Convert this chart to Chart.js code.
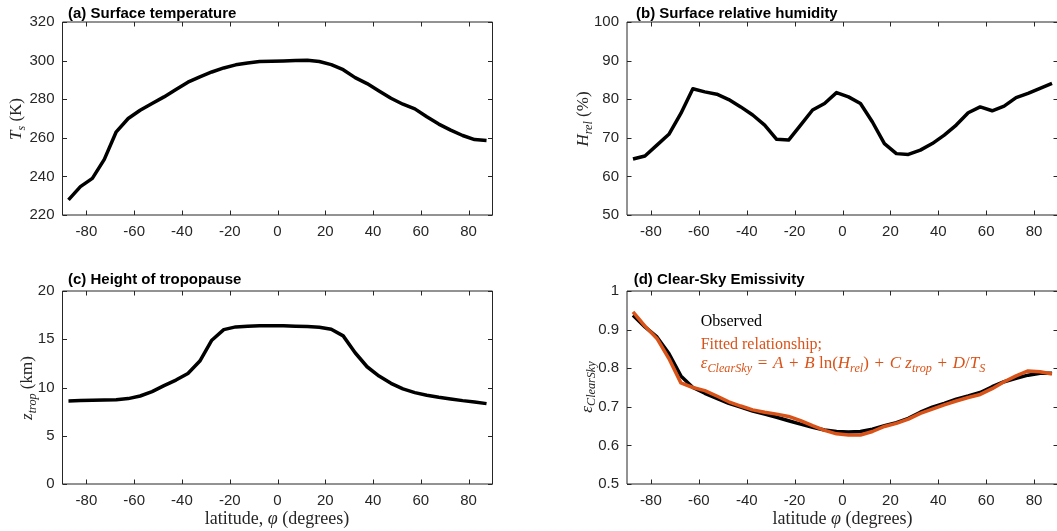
<!DOCTYPE html>
<html>
<head>
<meta charset="utf-8">
<title>Zonal mean surface fields</title>
<script src="https://cdn.jsdelivr.net/npm/chart.js@4"></script>
<style>
  html, body { margin: 0; padding: 0; background: #fff; overflow: hidden; }
  #wrap { position: relative; width: 1057px; height: 531px; overflow: hidden; }
  canvas { position: absolute; }
</style>
</head>
<body>
<div id="wrap">
  <canvas id="tsChart" style="left:0;top:0;width:528px;height:265px" width="528" height="265"></canvas>
  <canvas id="rhChart" style="left:528px;top:0;width:540px;height:265px" width="540" height="265"></canvas>
  <canvas id="ztChart" style="left:0;top:265px;width:528px;height:266px" width="528" height="266"></canvas>
  <canvas id="emChart" style="left:528px;top:265px;width:540px;height:266px" width="540" height="266"></canvas>
</div>
<script>
// latitude band centres (5 degree bands)
const lat = [-87.5, -82.5, -77.5, -72.5, -67.5, -62.5, -57.5, -52.5, -47.5, -42.5, -37.5, -32.5,
  -27.5, -22.5, -17.5, -12.5, -7.5, -2.5, 2.5, 7.5, 12.5, 17.5, 22.5, 27.5,
  32.5, 37.5, 42.5, 47.5, 52.5, 57.5, 62.5, 67.5, 72.5, 77.5, 82.5, 87.5];

// surface temperature (K)
const tsK = [227.8, 234.7, 239.0, 248.8, 263.1, 270.0, 274.3, 277.8, 281.2, 285.0, 288.8, 291.6,
  294.1, 296.2, 297.8, 298.8, 299.5, 299.7, 299.8, 300.0, 300.2, 299.5, 297.9, 295.3,
  291.2, 288.1, 284.3, 280.5, 277.4, 275.0, 270.9, 267.1, 264.0, 261.2, 259.1, 258.6];

// surface relative humidity (%)
const hRel = [64.5, 65.3, 68.1, 70.9, 76.3, 82.7, 81.9, 81.3, 79.9, 78.0, 75.9, 73.3,
  69.6, 69.4, 73.3, 77.2, 78.9, 81.7, 80.6, 78.9, 74.1, 68.5, 65.9, 65.7,
  66.8, 68.5, 70.7, 73.3, 76.5, 78.0, 77.0, 78.2, 80.4, 81.5, 82.8, 84.1];

// tropopause height (km)
const zTrop = [8.61, 8.64, 8.67, 8.71, 8.74, 8.85, 9.12, 9.57, 10.19, 10.77, 11.46, 12.74,
  14.9, 16.0, 16.28, 16.35, 16.39, 16.39, 16.39, 16.35, 16.32, 16.25, 16.04, 15.35,
  13.6, 12.15, 11.19, 10.43, 9.85, 9.47, 9.19, 8.98, 8.81, 8.64, 8.5, 8.33];

// clear-sky emissivity, observed and fitted
const emisObs = [0.937, 0.907, 0.881, 0.838, 0.780, 0.750, 0.735, 0.722, 0.709, 0.699, 0.689, 0.681,
  0.673, 0.664, 0.655, 0.647, 0.640, 0.636, 0.635, 0.636, 0.642, 0.651, 0.659, 0.670,
  0.686, 0.699, 0.709, 0.720, 0.728, 0.737, 0.752, 0.765, 0.774, 0.782, 0.787, 0.787];
const emisFit = [0.946, 0.909, 0.877, 0.825, 0.762, 0.750, 0.742, 0.728, 0.713, 0.702, 0.692, 0.686,
  0.681, 0.675, 0.664, 0.651, 0.639, 0.630, 0.627, 0.627, 0.636, 0.649, 0.657, 0.668,
  0.683, 0.694, 0.705, 0.715, 0.724, 0.732, 0.747, 0.765, 0.780, 0.793, 0.791, 0.785];

// tick values and labels
const latTicks = [-80, -60, -40, -20, 0, 20, 40, 60, 80];
const tsTicks = [220, 240, 260, 280, 300, 320];
const rhTicks = [50, 60, 70, 80, 90, 100];
const ztTicks = [0, 5, 10, 15, 20];
const emTicks = [0.5, 0.6, 0.7, 0.8, 0.9, 1];
const emTickLabels = ["0.5", "0.6", "0.7", "0.8", "0.9", "1"];

const SANS = '"Liberation Sans", Arial, Helvetica, sans-serif';
const SERIF = '"Liberation Serif", "Times New Roman", serif';
const AXIS_GREY = "#262626";
const ORANGE = "#D95319";
const OPSP = "\u2004"; // slightly wider space around math operators

// draw a run of text pieces: r = roman, i = italic, s = italic subscript, b = bold sans
function drawRich(ctx, parts, x, y, size, color, align) {
  const fontFor = (k) => {
    if (k === "b") return `bold ${size}px ${SANS}`;
    if (k === "r") return `${size}px ${SERIF}`;
    if (k === "s") return `italic ${(size * 0.72).toFixed(1)}px ${SERIF}`;
    return `italic ${size}px ${SERIF}`;
  };
  let w = 0;
  parts.forEach(([t, k]) => {
    ctx.font = fontFor(k);
    w += ctx.measureText(t).width;
  });
  let cx = align === "center" ? x - w / 2 : x;
  ctx.fillStyle = color;
  ctx.textAlign = "left";
  ctx.textBaseline = "alphabetic";
  parts.forEach(([t, k]) => {
    ctx.font = fontFor(k);
    ctx.fillText(t, cx, k === "s" ? y + size * 0.22 : y);
    cx += ctx.measureText(t).width;
  });
}

// titles, axis labels and legend text for each panel (canvas coordinates)
const panelText = {
  tsChart: {
    title: { text: "(a) Surface temperature", x: 68, y: 17.5 },
    ylabel: { parts: [["T", "i"], ["s", "s"], [" (K)", "r"]], x: 16, y: 119 },
  },
  rhChart: {
    title: { text: "(b) Surface relative humidity", x: 108, y: 17.5 },
    ylabel: { parts: [["H", "i"], ["rel", "s"], [" (%)", "r"]], x: 55, y: 119 },
  },
  ztChart: {
    title: { text: "(c) Height of tropopause", x: 68, y: 18.5 },
    ylabel: { parts: [["z", "i"], ["trop", "s"], [" (km)", "r"]], x: 27, y: 123 },
    xlabel: { parts: [["latitude, ", "r"], ["\u03c6", "i"], [" (degrees)", "r"]], x: 277, y: 259 },
  },
  emChart: {
    title: { text: "(d) Clear-Sky Emissivity", x: 105.7, y: 18.5 },
    ylabel: { parts: [["\u03b5", "i"], ["ClearSky", "s"]], x: 58.5, y: 122 },
    xlabel: { parts: [["latitude ", "r"], ["\u03c6", "i"], [" (degrees)", "r"]], x: 314.5, y: 259 },
    notes: [
      { parts: [["Observed", "r"]], x: 172.7, y: 61, size: 16, color: "#000" },
      { parts: [["Fitted relationship;", "r"]], x: 172.7, y: 84, size: 16, color: ORANGE },
      {
        parts: [["\u03b5", "i"], ["ClearSky", "s"], [OPSP + "=" + OPSP, "r"], ["A", "i"], [OPSP + "+" + OPSP, "r"],
          ["B", "i"], [" ln(", "r"], ["H", "i"], ["rel", "s"], [")" + OPSP + "+" + OPSP, "r"], ["C z", "i"],
          ["trop", "s"], [OPSP + "+" + OPSP, "r"], ["D", "i"], ["/", "r"], ["T", "i"], ["S", "s"]],
        x: 172.7, y: 103, size: 17, color: ORANGE,
      },
    ],
  },
};

// box around the plot area with inward ticks on all sides, plus the panel text
const framePlugin = {
  id: "frame",
  afterDraw(chart) {
    const { ctx, chartArea: a, scales } = chart;
    const len = 4.5;
    ctx.save();
    ctx.strokeStyle = AXIS_GREY;
    ctx.lineWidth = 1;
    ctx.beginPath();
    ctx.rect(a.left, a.top, a.right - a.left, a.bottom - a.top);
    latTicks.forEach((v) => {
      const px = Math.round(scales.x.getPixelForValue(v)) + 0.5;
      ctx.moveTo(px, a.bottom);
      ctx.lineTo(px, a.bottom - len);
      ctx.moveTo(px, a.top);
      ctx.lineTo(px, a.top + len);
    });
    scales.y.ticks.forEach((t) => {
      const py = Math.round(scales.y.getPixelForValue(t.value)) + 0.5;
      ctx.moveTo(a.left, py);
      ctx.lineTo(a.left + len, py);
      ctx.moveTo(a.right, py);
      ctx.lineTo(a.right - len, py);
    });
    ctx.stroke();

    const txt = panelText[chart.canvas.id];
    drawRich(ctx, [[txt.title.text, "b"]], txt.title.x, txt.title.y, 15, "#000", "left");
    ctx.save();
    ctx.translate(txt.ylabel.x, txt.ylabel.y);
    ctx.rotate(-Math.PI / 2);
    drawRich(ctx, txt.ylabel.parts, 0, 5, 17, AXIS_GREY, "center");
    ctx.restore();
    if (txt.xlabel) drawRich(ctx, txt.xlabel.parts, txt.xlabel.x, txt.xlabel.y, 18, AXIS_GREY, "center");
    (txt.notes || []).forEach((n) => drawRich(ctx, n.parts, n.x, n.y, n.size, n.color, "left"));
    ctx.restore();
  },
};

function makePanel(id, series, yMin, yMax, yTicks, yLabels, layout) {
  // later series get a lower order so they are drawn on top
  const datasets = series.map((s, k) => ({
    data: lat.map((x, i) => ({ x: x, y: s.values[i] })),
    borderColor: s.color,
    borderWidth: 3.5,
    pointRadius: 0,
    tension: 0,
    borderJoinStyle: "round",
    showLine: true,
    fill: false,
    order: series.length - k,
  }));
  return new Chart(document.getElementById(id), {
    type: "scatter",
    data: { datasets: datasets },
    options: {
      responsive: false,
      animation: false,
      layout: { padding: { left: 0, top: layout.top, right: layout.right, bottom: 0 } },
      plugins: { legend: { display: false }, tooltip: { enabled: false } },
      scales: {
        x: {
          type: "linear",
          position: "bottom",
          min: -90,
          max: 90,
          grid: { display: false, drawTicks: false },
          border: { display: false },
          afterBuildTicks: (scale) => {
            scale.ticks = latTicks.map((v) => ({ value: v }));
          },
          afterFit: (scale) => {
            scale.height = layout.bottom;
          },
          ticks: {
            padding: 8,
            maxRotation: 0,
            color: AXIS_GREY,
            font: { family: SANS, size: 15 },
            callback: (v) => String(v),
          },
        },
        y: {
          type: "linear",
          min: yMin,
          max: yMax,
          grid: { display: false, drawTicks: false },
          border: { display: false },
          afterBuildTicks: (scale) => {
            scale.ticks = yTicks.map((v) => ({ value: v }));
          },
          afterFit: (scale) => {
            scale.width = layout.left;
          },
          ticks: {
            padding: 8,
            color: AXIS_GREY,
            font: { family: SANS, size: 15 },
            callback: (v, i) => yLabels[i],
          },
        },
      },
    },
    plugins: [framePlugin],
  });
}

makePanel("tsChart", [{ values: tsK, color: "#000" }], 220, 320, tsTicks, tsTicks.map(String),
  { left: 62.5, top: 22, right: 35.5, bottom: 50 });
makePanel("rhChart", [{ values: hRel, color: "#000" }], 50, 100, rhTicks, rhTicks.map(String),
  { left: 99, top: 22, right: 10, bottom: 50 });
makePanel("ztChart", [{ values: zTrop, color: "#000" }], 0, 20, ztTicks, ztTicks.map(String),
  { left: 62.5, top: 26, right: 35.5, bottom: 47 });
makePanel("emChart", [{ values: emisObs, color: "#000" }, { values: emisFit, color: ORANGE }],
  0.5, 1, emTicks, emTickLabels, { left: 99, top: 26, right: 10, bottom: 47 });
</script>
</body>
</html>
